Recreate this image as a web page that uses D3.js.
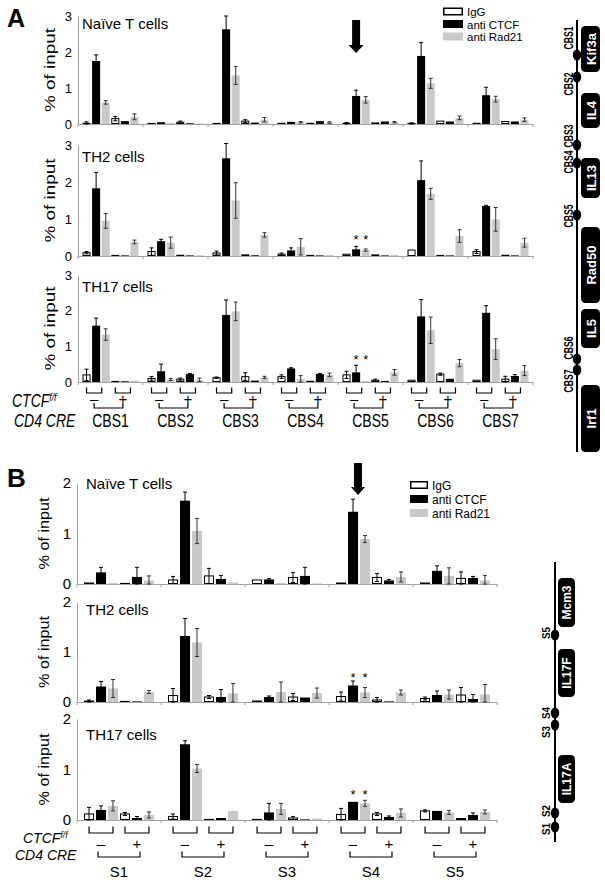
<!DOCTYPE html>
<html><head><meta charset="utf-8">
<script src="https://cdn.jsdelivr.net/npm/d3@7"></script>
<style>body{margin:0;background:#fff}svg{display:block;font-family:Arial,"Liberation Sans",sans-serif}</style>
</head><body><svg id="c" width="605" height="882"></svg>
<script>
// ---------------- DATA ----------------
const seriesNames = ["IgG", "anti CTCF", "anti Rad21"];
const catsA = ["CBS1", "CBS2", "CBS3", "CBS4", "CBS5", "CBS6", "CBS7"];
const catsB = ["S1", "S2", "S3", "S4", "S5"];
const cellTypes = ["Naïve T cells", "TH2 cells", "TH17 cells"];
const yTicksA = [0, 1, 2, 3];
const yTicksB = [0, 1, 2];
const creLabels = ["–", "+"];
// each row: [IgG-, CTCF-, Rad21-, IgG+, CTCF+, Rad21+]  (CD4 CRE - / +)
const aNaive = [[0.02,1.75,0.60,0.15,0.08,0.20],[0.01,0.05,0.03,0.05,0.02,0.02],[0.01,2.63,1.35,0.08,0.04,0.12],[0.02,0.06,0.05,0.02,0.08,0.04],[0.02,0.78,0.67,0.03,0.07,0.05],[0.01,1.89,1.13,0.08,0.07,0.17],[0.02,0.80,0.69,0.07,0.07,0.12]];
const aNaiveErr = [[0.04,0.17,0.05,0.06,0.01,0.08],[0,0.01,0.01,0.03,0,0.01],[0.01,0.37,0.25,0.04,0.01,0.06],[0.01,0.01,0.02,0,0.01,0.02],[0.02,0.16,0.09,0,0.01,0.02],[0.02,0.37,0.14,0.01,0.01,0.05],[0.01,0.22,0.08,0.01,0.01,0.05]];
const aTh2 = [[0.09,1.83,0.95,0.01,0.00,0.38],[0.12,0.40,0.36,0.02,0.00,0.02],[0.08,2.64,1.50,0.03,0.02,0.57],[0.05,0.15,0.25,0.01,0.01,0.03],[0.05,0.18,0.16,0.03,0.00,0.03],[0.16,2.05,1.68,0.01,0.01,0.54],[0.12,1.35,0.99,0.02,0.01,0.36]];
const aTh2Err = [[0.03,0.43,0.20,0,0,0.05],[0.10,0.05,0.15,0,0,0],[0.05,0.40,0.48,0,0,0.06],[0.03,0.07,0.22,0,0,0.01],[0.01,0.08,0.03,0,0,0.01],[0.01,0.52,0.15,0,0,0.17],[0.05,0.02,0.32,0,0,0.12]];
const aTh17 = [[0.20,1.58,1.33,0.01,0.02,0.04],[0.10,0.30,0.07,0.08,0.22,0.06],[0.12,1.88,1.98,0.15,0.04,0.13],[0.15,0.38,0.08,0.02,0.22,0.20],[0.20,0.27,0.03,0.05,0.03,0.27],[0.05,1.84,1.45,0.22,0.09,0.53],[0.05,1.94,0.92,0.08,0.17,0.32]];
const aTh17Err = [[0.16,0.21,0.16,0,0,0.01],[0.05,0.20,0.03,0.03,0.02,0.05],[0.02,0.42,0.26,0.11,0.01,0.03],[0.05,0.02,0.10,0,0.02,0.05],[0.10,0.20,0,0.03,0.01,0.08],[0.01,0.47,0.37,0.03,0.01,0.10],[0.01,0.20,0.29,0.08,0.04,0.14]];
const bNaive = [[0.02,0.23,0.02,0.01,0.14,0.07],[0.08,1.65,1.05,0.16,0.10,0.03],[0.08,0.09,0.02,0.13,0.16,0.01],[0.02,1.43,0.89,0.13,0.07,0.14],[0.02,0.26,0.16,0.11,0.12,0.07]];
const bNaiveErr = [[0.01,0.10,0.01,0,0.19,0.09],[0.07,0.17,0.25,0.15,0.07,0.01],[0,0.02,0.01,0.10,0.17,0],[0.01,0.25,0.07,0.08,0.02,0.10],[0.01,0.10,0.16,0.13,0.03,0.10]];
const bTh2 = [[0.02,0.31,0.27,0.00,0.00,0.20],[0.13,1.32,1.19,0.10,0.10,0.17],[0.02,0.10,0.20,0.10,0.09,0.18],[0.11,0.33,0.19,0.04,0.00,0.19],[0.07,0.14,0.15,0.14,0.06,0.15]];
const bTh2Err = [[0.02,0.10,0.18,0,0,0.03],[0.14,0.35,0.28,0.03,0.15,0.20],[0.01,0.02,0.20,0.07,0.01,0.10],[0.09,0.09,0.10,0.05,0,0.05],[0.03,0.08,0.09,0.15,0.09,0.20]];
const bTh17 = [[0.12,0.20,0.28,0.12,0.04,0.10],[0.07,1.50,1.02,0.005,0.04,0.18],[0.01,0.15,0.22,0.04,0.005,0.03],[0.11,0.36,0.33,0.12,0.06,0.14],[0.18,0.18,0.15,0.03,0.10,0.16]];
const bTh17Err = [[0.13,0.08,0.10,0.03,0.03,0.06],[0.05,0.07,0.08,0,0.01,0.01],[0,0.18,0.11,0.03,0,0.01],[0.12,0.01,0.06,0.03,0.02,0.08],[0.02,0.01,0.04,0,0.04,0.04]];
const genesA = ["Kif3a", "IL4", "IL13", "Rad50", "IL5", "Irf1"];
const sitesA = ["CBS1", "CBS2", "CBS3", "CBS4", "CBS5", "CBS6", "CBS7"];
const genesB = ["Mcm3", "IL17F", "IL17A"];
const sitesB = ["S5", "S4", "S3", "S2", "S1"];

// ---------------- DRAWING ----------------
const svg = d3.select("#c");
const fills = ["#fff", "#000", "#c9c9c9"];
const axisCol = "#a0a0a0";

function T(sel, s, x, y, o = {}) {
  let tr = `translate(${x},${y})`;
  if (o.rot) tr += ` rotate(${o.rot})`;
  if (o.sy) tr += ` scale(1,${o.sy})`;
  const t = sel.append("text").attr("transform", tr)
    .attr("font-size", o.size || 12)
    .attr("text-anchor", o.anchor || "start")
    .attr("fill", o.fill || "#000");
  if (o.weight) t.attr("font-weight", o.weight);
  if (o.italic) t.attr("font-style", "italic");
  if (o.len) t.attr("textLength", o.len).attr("lengthAdjust", "spacingAndGlyphs");
  t.text(s);
  return t;
}

function drawPlot(p) {
  const g = svg.append("g");
  const x = d3.scaleBand().domain(p.cats).range([p.x0, p.x1]).padding(0);
  const xi = d3.scaleBand().domain(d3.range(6)).range([p.pad, x.bandwidth() - p.pad]).paddingInner(0.16);
  const y = d3.scaleLinear().domain([0, p.ymax]).range([p.bottom, p.top]);

  const ya = g.append("g").attr("transform", `translate(${p.x0},0)`)
    .call(d3.axisLeft(y).tickValues(p.ticks).tickSize(0).tickPadding(6).tickFormat(d3.format("d")));
  ya.select(".domain").attr("stroke", axisCol);
  ya.selectAll("text").attr("font-size", p.tickFont).attr("font-family", "Arial, 'Liberation Sans', sans-serif").attr("fill", "#000");

  const xa = g.append("g").attr("transform", `translate(0,${p.bottom})`)
    .call(d3.axisBottom(x).tickSize(0).tickFormat(""));
  xa.select(".domain").attr("stroke", axisCol);
  g.selectAll(".bd").data(p.cats.map(c => x(c)).concat([p.x1])).join("line")
    .attr("x1", d => d).attr("x2", d => d).attr("y1", p.bottom).attr("y2", p.bottom + 3)
    .attr("stroke", axisCol);

  p.cats.forEach((c, ci) => {
    const cg = g.append("g").attr("transform", `translate(${x(c)},0)`);
    p.vals[ci].forEach((v, bi) => {
      const s = bi % 3;
      const bx = xi(bi), bw = xi.bandwidth();
      const h = Math.max(p.bottom - y(v), 0.6);
      cg.append("rect").attr("x", bx + (s === 0 ? 0.5 : 0)).attr("y", p.bottom - h)
        .attr("width", bw - (s === 0 ? 1 : 0)).attr("height", h - (s === 0 ? 0.5 : 0))
        .attr("fill", fills[s]).attr("stroke", s === 0 ? "#000" : "none").attr("stroke-width", 1);
      const e = p.errs[ci][bi];
      if (e > 0.015) {
        const cx = bx + bw / 2;
        const yt = y(v + e), yb = y(Math.max(0, v - e));
        const col = s === 2 ? "#333" : "#000";
        cg.append("line").attr("x1", cx).attr("x2", cx).attr("y1", yt).attr("y2", yb).attr("stroke", col);
        cg.append("line").attr("x1", cx - 2).attr("x2", cx + 2).attr("y1", yt).attr("y2", yt).attr("stroke", col);
        cg.append("line").attr("x1", cx - 2).attr("x2", cx + 2).attr("y1", yb).attr("y2", yb).attr("stroke", col);
      }
    });
  });

  T(g, p.title, p.titleX, p.titleY, { size: 15 });
  T(g, "% of input", p.ylabX, (p.top + p.bottom) / 2, { size: 15, rot: -90, anchor: "middle", len: p.ylabLen });

  if (p.stars) {
    p.stars.forEach(st => {
      [1, 2].forEach(bi => {
        T(g, "*", x(p.cats[st.cat]) + xi(bi) + xi.bandwidth() / 2, st.y, { size: 13, anchor: "middle" });
      });
    });
  }
  return { x, xi, y, g };
}

function drawBottomLabels(sc, p) {
  const g = svg.append("g");
  const { x, xi } = sc;
  const bw = xi.bandwidth();
  p.cats.forEach(c => {
    const ox = x(c);
    const cent = [];
    [0, 3].forEach(b0 => {
      const xa = ox + xi(b0) + bw / 2, xb = ox + xi(b0 + 2) + bw / 2 - p.brShrink;
      g.append("path").attr("d", `M${xa},${p.br1}V${p.br2}H${xb}V${p.br1}`)
        .attr("fill", "none").attr("stroke", "#000").attr("stroke-width", 1.2);
      cent.push((xa + xb) / 2);
    });
    T(g, creLabels[0], cent[0], p.signY, { size: p.signSize, anchor: "middle" });
    T(g, creLabels[1], cent[1], p.signY, { size: p.signSize, anchor: "middle" });
    g.append("path").attr("d", `M${cent[0] - p.bigExt},${p.big1}V${p.big2}H${cent[1] + p.bigExt}V${p.big1}`)
      .attr("fill", "none").attr("stroke", "#000").attr("stroke-width", 1.2);
    T(g, c, ox + x.bandwidth() / 2, p.catY, { size: p.catSize, anchor: "middle", sy: p.sy });
  });
  const t1 = T(g, "CTCF", p.ctcfX, p.ctcfY, { size: p.lblSize, italic: true, sy: p.sy });
  t1.append("tspan").attr("dy", -5).attr("font-size", p.lblSize * 0.62).text("f/f");
  T(g, "CD4 CRE", p.creX, p.creY, { size: p.lblSize, italic: true, sy: p.sy });
}

function legend(x, y0, step, w, h, fs) {
  const g = svg.append("g");
  seriesNames.forEach((s, i) => {
    g.append("rect").attr("x", x + (i === 0 ? 0.75 : 0)).attr("y", y0 + i * step + (i === 0 ? 0.75 : 0))
      .attr("width", w - (i === 0 ? 1.5 : 0)).attr("height", h - (i === 0 ? 1.5 : 0))
      .attr("fill", fills[i]).attr("stroke", i === 0 ? "#000" : "none").attr("stroke-width", 1.5);
    T(g, s, x + w + 4, y0 + i * step + h + 0.5, { size: fs });
  });
}

function arrow(cx, y0, y1, yh, sw, hw) {
  svg.append("path").attr("d",
    `M${cx - sw / 2},${y0}H${cx + sw / 2}V${yh}H${cx + hw / 2}L${cx},${y1}L${cx - hw / 2},${yh}H${cx - sw / 2}Z`)
    .attr("fill", "#000");
}

// Panel A
T(svg, "A", 7, 27, { size: 25, weight: "bold" });
const plotsA = [
  { vals: aNaive, errs: aNaiveErr, top: 16, bottom: 124, titleY: 29 },
  { vals: aTh2, errs: aTh2Err, top: 145, bottom: 256, titleY: 162, stars: [{ cat: 4, y: 244 }] },
  { vals: aTh17, errs: aTh17Err, top: 275, bottom: 382, titleY: 292, stars: [{ cat: 4, y: 364 }] }
];
let scA;
plotsA.forEach((p, i) => {
  scA = drawPlot(Object.assign({ cats: catsA, x0: 78, x1: 533, pad: 4.5, ymax: 3, ticks: yTicksA, tickFont: 13,
    title: cellTypes[i], titleX: 82, ylabX: 55, ylabLen: 84 }, p));
  if (i === 0) arrow(scA.x(catsA[4]) + scA.xi(1) + scA.xi.bandwidth() / 2, 20, 53, 45, 8, 15);
});
drawBottomLabels(scA, { cats: catsA, br1: 387.5, br2: 393, brShrink: 4, signY: 404, signSize: 15, big1: 403, big2: 408,
  bigExt: 0, catY: 427, catSize: 14, sy: 1.25, ctcfX: 12, ctcfY: 407, creX: 14, creY: 427, lblSize: 14 });
legend(443, 7.5, 12.5, 20, 8, 11.5);

// Panel B
T(svg, "B", 7, 487, { size: 26, weight: "bold" });
const plotsB = [
  { vals: bNaive, errs: bNaiveErr, top: 483, bottom: 584, titleY: 489 },
  { vals: bTh2, errs: bTh2Err, top: 602, bottom: 702, titleY: 615, stars: [{ cat: 3, y: 682 }] },
  { vals: bTh17, errs: bTh17Err, top: 719, bottom: 820, titleY: 740, stars: [{ cat: 3, y: 799 }] }
];
let scB;
plotsB.forEach((p, i) => {
  scB = drawPlot(Object.assign({ cats: catsB, x0: 77, x1: 497, pad: 7, ymax: 2, ticks: yTicksB, tickFont: 15,
    title: cellTypes[i], titleX: 86, ylabX: 49, ylabLen: 72 }, p));
  if (i === 0) arrow(scB.x(catsB[3]) + scB.xi(1) + scB.xi.bandwidth() / 2 + 5, 463, 495, 487, 8, 14);
});
drawBottomLabels(scB, { cats: catsB, br1: 826.5, br2: 833, brShrink: 0, signY: 849, signSize: 15, big1: 851.5, big2: 857,
  bigExt: 3, catY: 877, catSize: 15, sy: 1, ctcfX: 23, ctcfY: 843, creX: 15, creY: 860, lblSize: 14 });
legend(410, 481, 14, 18, 8, 12);

// Locus diagrams
function locus(lx, ly0, ly1, genes, gpos, gx, gw, gFont, sites, spos, lpos, lblX, lblFont, lblLens, geneBase) {
  const g = svg.append("g");
  g.append("line").attr("x1", lx).attr("x2", lx).attr("y1", ly0).attr("y2", ly1).attr("stroke", "#000").attr("stroke-width", 2);
  genes.forEach((n, i) => {
    const [a, b] = gpos[i];
    g.append("rect").attr("x", gx).attr("y", a).attr("width", gw).attr("height", b - a).attr("rx", 4.5).attr("fill", "#000");
    T(g, n, geneBase, (a + b) / 2, { size: gFont, weight: "bold", fill: "#fff", rot: -90, anchor: "middle" });
  });
  sites.forEach((s, i) => {
    g.append("ellipse").attr("cx", lx).attr("cy", spos[i]).attr("rx", 4.2).attr("ry", 5.5).attr("fill", "#000");
    T(g, s, lblX, lpos[i], { size: lblFont, weight: "bold", rot: -90, anchor: "middle", len: lblLens ? lblLens : null });
  });
}
locus(577, 20, 452, genesA, [[26, 72], [93, 128], [158, 198], [227, 303], [309, 348], [385, 452]], 581, 19, 13,
  sitesA, [55, 77, 145, 163, 215, 359, 370], [38, 84, 136, 162, 216, 348, 381], 573, 13, 23, 596);
locus(555, 562, 842, genesB, [[578, 627], [649, 697], [755, 803]], 558, 17, 12,
  sitesB, [635, 713, 725, 813, 827], [633, 713, 732, 811, 829], 550, 11.5, 12, 571);
</script></body></html>
